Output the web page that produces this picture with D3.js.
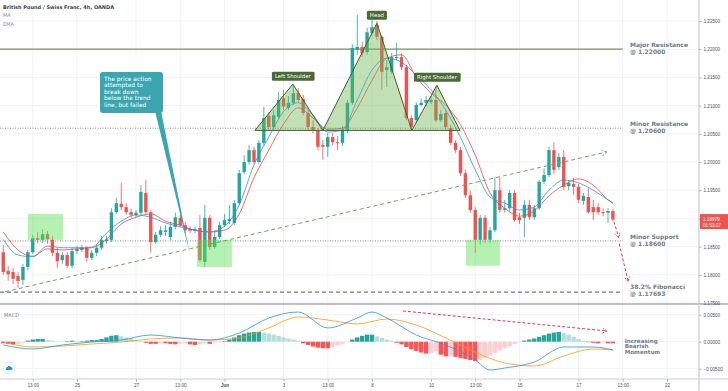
<!DOCTYPE html>
<html>
<head>
<meta charset="utf-8">
<script src="https://d3js.org/d3.v7.min.js"></script>
<style>
  body { margin: 0; background: #fff; }
  svg { display: block; font-family: "DejaVu Sans", Verdana, sans-serif; }
  .tick text { font-family: "Liberation Sans", Arial, sans-serif; fill: #4c525e; }
</style>
</head>
<body>
<svg id="chart" width="728" height="391"></svg>
<script>
// ---- data ----
var firstIdx = -15; // candle index of the first 4h bar (0 = 25 May 01:00)
var opens = [1.1840,1.1807,1.1805,1.1798,1.1791,1.1814,1.1840,1.1865,1.1862,1.1872,1.1862,1.1839,1.1826,1.1835,1.1816,
  1.1842,1.1844,1.1848,1.1830,1.1839,1.1848,1.1860,1.1862,1.1911,1.1926,1.1920,1.1911,1.1906,1.1910,1.1945,
  1.1911,1.1858,1.1871,1.1876,1.1867,1.1885,1.1901,1.1888,1.1881,1.1878,1.1883,1.1823,1.1901,1.1849,1.1867,
  1.1888,1.1895,1.1892,1.1927,1.1982,1.2000,1.2021,1.2000,1.2034,1.2082,1.2062,1.2080,1.2113,1.2096,1.2105,
  1.2122,1.2112,1.2087,1.2062,1.2055,1.2030,1.2027,1.2044,1.2035,1.2034,1.2057,1.2105,1.2199,1.2204,1.2195,
  1.2229,1.2243,1.2222,1.2163,1.2160,1.2184,1.2186,1.2168,1.2078,1.2074,1.2101,1.2105,1.2106,1.2110,1.2074,
  1.2087,1.2060,1.2034,1.2021,1.1980,1.1941,1.1915,1.1862,1.1901,1.1862,1.1879,1.1950,1.1915,1.1918,1.1945,
  1.1902,1.1901,1.1924,1.1902,1.1918,1.1965,1.1977,1.2021,1.1991,1.2009,1.1957,1.1961,1.1956,1.1931,1.1938,
  1.1920,1.1920,1.1911,1.1910,1.1913];
var highs = [1.1853,1.1816,1.1812,1.1805,1.1819,1.1844,1.1871,1.1876,1.1881,1.1878,1.1869,1.1848,1.1840,1.1840,1.1848,
  1.1851,1.1853,1.1851,1.1844,1.1853,1.1869,1.1869,1.1918,1.1936,1.1963,1.1927,1.1917,1.1915,1.1959,1.1968,
  1.1915,1.1876,1.1886,1.1888,1.1894,1.1910,1.1906,1.1894,1.1886,1.1886,1.1906,1.1924,1.1906,1.1879,1.1894,
  1.1908,1.1924,1.1933,1.1986,1.2012,1.2030,1.2027,1.2039,1.2098,1.2089,1.2092,1.2124,1.2128,1.2117,1.2137,
  1.2131,1.2119,1.2092,1.2074,1.2060,1.2039,1.2051,1.2051,1.2046,1.2064,1.2110,1.2209,1.2261,1.2213,1.2238,
  1.2252,1.2250,1.2225,1.2181,1.2193,1.2211,1.2193,1.2172,1.2083,1.2106,1.2113,1.2117,1.2117,1.2135,1.2092,
  1.2092,1.2066,1.2039,1.2027,1.1986,1.1950,1.1920,1.1906,1.1906,1.1885,1.1973,1.1973,1.1933,1.1950,1.1950,
  1.1910,1.1933,1.1933,1.1924,1.1968,1.1989,1.2027,1.2035,1.2016,1.2021,1.1968,1.1972,1.1961,1.1945,1.1954,
  1.1933,1.1927,1.1918,1.1918,1.1917];
var lows = [1.1800,1.1789,1.1784,1.1777,1.1782,1.1809,1.1837,1.1856,1.1856,1.1855,1.1833,1.1812,1.1819,1.1812,1.1812,
  1.1837,1.1840,1.1823,1.1826,1.1833,1.1844,1.1855,1.1858,1.1908,1.1915,1.1906,1.1901,1.1902,1.1906,1.1908,
  1.1839,1.1855,1.1867,1.1869,1.1862,1.1881,1.1885,1.1874,1.1874,1.1874,1.1823,1.1814,1.1844,1.1846,1.1863,
  1.1885,1.1890,1.1888,1.1924,1.1979,1.1995,1.1996,1.1996,1.2030,1.2057,1.2057,1.2076,1.2092,1.2092,1.2101,
  1.2105,1.2083,1.2057,1.2051,1.2021,1.2004,1.2009,1.2030,1.2021,1.2028,1.2051,1.2101,1.2190,1.2186,1.2190,
  1.2223,1.2216,1.2128,1.2133,1.2156,1.2181,1.2163,1.2074,1.2055,1.2069,1.2098,1.2099,1.2103,1.2071,1.2071,
  1.2057,1.2030,1.2016,1.1975,1.1936,1.1910,1.1839,1.1853,1.1856,1.1856,1.1876,1.1910,1.1910,1.1913,1.1894,
  1.1890,1.1867,1.1897,1.1897,1.1915,1.1961,1.1973,1.1979,1.1986,1.1950,1.1950,1.1941,1.1927,1.1924,1.1908,
  1.1897,1.1906,1.1904,1.1892,1.1895];
var closes = [1.1805,1.1801,1.1793,1.1789,1.1814,1.1840,1.1865,1.1862,1.1872,1.1863,1.1839,1.1824,1.1835,1.1816,1.1842,
  1.1846,1.1848,1.1830,1.1839,1.1848,1.1862,1.1863,1.1911,1.1927,1.1920,1.1911,1.1906,1.1910,1.1947,1.1911,
  1.1858,1.1871,1.1879,1.1879,1.1885,1.1902,1.1888,1.1879,1.1878,1.1881,1.1826,1.1901,1.1849,1.1867,1.1888,
  1.1897,1.1899,1.1927,1.1980,1.2000,1.2021,1.2000,1.2034,1.2078,1.2062,1.2083,1.2110,1.2098,1.2105,1.2122,
  1.2110,1.2087,1.2062,1.2057,1.2027,1.2027,1.2044,1.2035,1.2034,1.2057,1.2105,1.2202,1.2204,1.2193,1.2230,
  1.2239,1.2222,1.2160,1.2168,1.2186,1.2186,1.2168,1.2078,1.2062,1.2101,1.2105,1.2110,1.2110,1.2074,1.2085,
  1.2062,1.2034,1.2021,1.1980,1.1941,1.1915,1.1862,1.1901,1.1862,1.1879,1.1950,1.1915,1.1918,1.1945,1.1897,
  1.1897,1.1924,1.1902,1.1918,1.1965,1.1977,1.2021,1.1986,1.2009,1.1956,1.1963,1.1956,1.1933,1.1940,1.1911,
  1.1911,1.1911,1.1910,1.1913,1.18979];

// moving averages, read every few bars
var maIdx = [-15,-12,-9,-6,-3,0,3,6,9,12,15,18,21,24,27,30,33,36,39,42,45,48,51,54,57,60,63,66,69,72,75,78,81,84,87,90,93,96,99,102,105,108,109];
var maVals = [1.1876,1.1844,1.1833,1.1846,1.1844,1.1846,1.1848,1.1863,1.1890,1.1902,1.1908,1.1895,1.1888,1.1879,1.1876,1.1879,1.1908,1.1972,1.2021,1.2067,1.2096,1.2078,1.2058,1.2060,1.2096,1.2145,1.2184,1.2190,1.2151,1.2122,1.2101,1.2066,1.2012,1.1945,1.1918,1.1904,1.1913,1.1940,1.1959,1.1970,1.1959,1.1933,1.1927];
var emaVals = [1.1863,1.1835,1.1832,1.1851,1.1848,1.1848,1.1849,1.1874,1.1895,1.1906,1.1902,1.1892,1.1885,1.1879,1.1876,1.1886,1.1924,1.1995,1.2044,1.2089,1.2105,1.2083,1.2053,1.2057,1.2110,1.2163,1.2184,1.2177,1.2154,1.2128,1.2092,1.2044,1.1986,1.1938,1.1927,1.1915,1.1920,1.1950,1.1968,1.1963,1.1950,1.1933,1.1927];

// MACD lines, read every six bars
var macdIdx = [-15,-9,-3,3,9,15,21,27,33,39,45,51,57,60,63,69,75,81,84,87,93,99,105,109];
var macdVals = [-0.00061,-0.00135,-0.00061,-0.00006,0.00031,0.00124,0.00069,0.00031,0.00161,0.00439,0.00550,0.00254,0.00439,0.00550,0.00439,0.00124,-0.00061,-0.00339,-0.00524,-0.00487,-0.00376,-0.00098,-0.00098,-0.00154];
var signalIdx = [-15,-9,-3,3,9,15,21,27,33,39,45,51,57,63,69,75,81,87,93,99,105,109];
var signalVals = [-0.00006,-0.00098,-0.00080,-0.00043,-0.00006,0.00050,0.00069,0.00031,0.00069,0.00254,0.00457,0.00402,0.00328,0.00420,0.00309,0.00069,-0.00191,-0.00394,-0.00450,-0.00265,-0.00135,-0.00154];
var histVals = [-0.0003,-0.0004,-0.0005,-0.0004,-0.0002,
  0.0002,0.0004,0.0005,0.0005,0.0003,0.0002,
  0.0001,0.0000,0.0001,0.0002,0.0001,0.0001,0.0002,0.0003,0.0003,
  0.0005,0.0008,0.0011,0.0012,0.0010,0.0008,0.0006,0.0003,
  0.0001,-0.0002,-0.0004,-0.0004,-0.0003,-0.0003,-0.0004,-0.0005,-0.0004,-0.0003,-0.0005,-0.0006,
  -0.0005,-0.0003,-0.0004,-0.0002,-0.0001,0.0001,
  0.0004,0.0008,0.0012,0.0015,0.0017,0.0018,0.0018,0.0017,0.0015,0.0013,0.0011,0.0008,0.0006,0.0004,0.0002,
  -0.0003,-0.0006,-0.0009,-0.0011,-0.0012,-0.0012,-0.0010,-0.0007,-0.0004,-0.0001,
  0.0004,0.0008,0.0011,0.0013,0.0013,0.0010,0.0007,0.0004,0.0002,
  -0.0002,-0.0005,-0.0010,-0.0014,-0.0017,-0.0020,-0.0022,-0.0021,-0.0018,-0.0024,-0.0027,-0.0026,-0.0028,-0.0030,-0.0032,-0.0034,-0.0036,-0.0034,
  -0.0030,-0.0026,-0.0021,-0.0016,-0.0012,-0.0008,-0.0004,-0.0001,
  0.0002,0.0004,0.0006,0.0009,0.0012,0.0015,0.0017,0.0018,0.0016,0.0013,0.0009,0.0005,0.0002,
  -0.0001,-0.0002,-0.0003,-0.0002,-0.0003,-0.0003];

// axes
var timeIdx = [-9,0,12,21,30,42,51,60,72,81,90,102,111,120];
var timeLabels = ["13:00","25","27","13:00","Jun","3","13:00","8","10","13:00","15","17","13:00","22"];
var priceTicks = [1.175,1.18,1.185,1.19,1.195,1.2,1.205,1.21,1.215,1.22,1.225];
var macdTicks = [-0.005,0,0.005];

// drawn levels
var levelVals = [1.22, 1.206, 1.186, 1.17693];
var levelNames = [["Major Resistance","@ 1.22000"],["Minor Resistance","@  1.20600"],["Minor Support","@ 1.18600"],["38.2% Fibonacci","@ 1.17693"]];

// head and shoulders
var hsIdx = [[36.2,43.9,50],[50,61,68.1],[68.1,73.2,77.9]];
var hsPrice = [[1.2056,1.2138,1.2056],[1.2056,1.2246,1.2056],[1.2056,1.2136,1.2056]];
var hsNames = ["Left Shoulder","Head","Right Shoulder"];

// green zones [i0, i1, top, bottom]
var zones = [[-10,-2.85,1.1908,1.1862],[24.4,31.5,1.1862,1.1814],[79.1,86,1.1862,1.1816]];

// trend line and projections
var trendIdx = [-14.6,107.8], trendPrice = [1.1770,1.2018];
var proj1Idx = [109.2,110.2], proj1Price = [1.1894,1.1866];
var proj2Idx = [110.3,112.1], proj2Price = [1.1855,1.1788];
var macdArrowIdx = [66.3,107.8], macdArrowVals = [0.00569,0.00198];
var calloutTipIdx = 23, calloutTipPrice = 1.1835;

// ---- chart ----
var svg = d3.select("#chart");
var axisX = 699, sepY = 304, macdBottom = 379;
var x = d3.scaleLinear().domain([0,120]).range([77,667]);
var y = d3.scaleLinear().domain([1.175,1.225]).range([303,21]);
var ym = d3.scaleLinear().domain([-0.005,0.005]).range([368.7,314.7]);

var defs = svg.append("defs");
defs.append("clipPath").attr("id","mainClip").append("rect").attr("width",axisX).attr("height",sepY);
defs.append("clipPath").attr("id","macdClip").append("rect").attr("y",sepY).attr("width",axisX).attr("height",macdBottom-sepY);

// grid
var grid = svg.append("g");
grid.selectAll(".gv").data(timeIdx).enter().append("line")
  .attr("x1",d=>x(d)).attr("x2",d=>x(d)).attr("y1",0).attr("y2",macdBottom)
  .attr("stroke","#f0f2f6");
grid.selectAll(".gh").data(priceTicks).enter().append("line")
  .attr("x1",0).attr("x2",axisX).attr("y1",d=>y(d)).attr("y2",d=>y(d))
  .attr("stroke","#f0f2f6");
grid.selectAll(".gm").data(macdTicks).enter().append("line")
  .attr("x1",0).attr("x2",axisX).attr("y1",d=>ym(d)).attr("y2",d=>ym(d))
  .attr("stroke","#f0f2f6");

var main = svg.append("g").attr("clip-path","url(#mainClip)");

// levels
var levelStyle = [
  {stroke:"#6f9a55", w:1.3, dash:null},
  {stroke:"#8a8f80", w:1, dash:"1,1.5"},
  {stroke:"#8a8f80", w:1, dash:"1,1.5"},
  {stroke:"#555", w:1, dash:"4,3"}];
main.selectAll(".lvl").data(levelVals).enter().append("line")
  .attr("x1",0).attr("x2",x(111)).attr("y1",d=>y(d)).attr("y2",d=>y(d))
  .attr("stroke",(d,k)=>levelStyle[k].stroke).attr("stroke-width",(d,k)=>levelStyle[k].w)
  .attr("stroke-dasharray",(d,k)=>levelStyle[k].dash);

// candles
var candles = closes.map(function(c,k){
  return {i: firstIdx+k, o: opens[k], h: highs[k], l: lows[k], c: c};
});
var up = "#26a69a", down = "#ef5350";
var cg = main.selectAll(".candle").data(candles).enter().append("g");
cg.append("line")
  .attr("x1",d=>x(d.i)).attr("x2",d=>x(d.i)).attr("y1",d=>y(d.h)).attr("y2",d=>y(d.l))
  .attr("stroke",d=>d.c>=d.o?up:down).attr("stroke-width",0.8);
cg.append("rect")
  .attr("x",d=>x(d.i)-1.7).attr("width",3.4)
  .attr("y",d=>y(Math.max(d.o,d.c)))
  .attr("height",d=>Math.max(1,Math.abs(y(d.o)-y(d.c))))
  .attr("fill",d=>d.c>=d.o?up:down);

// MA / EMA
var ln = d3.line().x(d=>x(d[0])).y(d=>y(d[1])).curve(d3.curveMonotoneX);
main.append("path").datum(maIdx.map((d,k)=>[d,maVals[k]]))
  .attr("d",ln).attr("fill","none").attr("stroke","#f44336").attr("stroke-width",0.8);
main.append("path").datum(maIdx.map((d,k)=>[d,emaVals[k]]))
  .attr("d",ln).attr("fill","none").attr("stroke","#2196f3").attr("stroke-width",0.8);

// head & shoulders triangles
main.selectAll(".hs").data(hsIdx).enter().append("polygon")
  .attr("points",(d,k)=>d.map((v,j)=>x(v)+","+y(hsPrice[k][j])).join(" "))
  .attr("fill","rgba(110,180,80,0.42)").attr("stroke","#3d6230").attr("stroke-width",1);

// zones
main.selectAll(".zone").data(zones).enter().append("rect")
  .attr("x",d=>x(d[0])).attr("width",d=>x(d[1])-x(d[0]))
  .attr("y",d=>y(d[2])).attr("height",d=>y(d[3])-y(d[2]))
  .attr("fill","rgba(90,225,80,0.45)");

function chevron(g, x1, y1, x2, y2, size, color, dash) {
  var a = Math.atan2(y2-y1, x2-x1);
  var p1 = [x2 - size*Math.cos(a-0.5), y2 - size*Math.sin(a-0.5)];
  var p2 = [x2 - size*Math.cos(a+0.5), y2 - size*Math.sin(a+0.5)];
  g.append("path").attr("d","M"+p1+"L"+[x2,y2]+"L"+p2)
    .attr("fill","none").attr("stroke",color).attr("stroke-width",1).attr("stroke-dasharray",dash);
}

// trend line
var tx1 = x(trendIdx[0]), ty1 = y(trendPrice[0]), tx2 = x(trendIdx[1]), ty2 = y(trendPrice[1]);
main.append("line").attr("x1",tx1).attr("y1",ty1).attr("x2",tx2).attr("y2",ty2)
  .attr("stroke","#7f9c74").attr("stroke-width",1).attr("stroke-dasharray","4,3");
chevron(main, tx1, ty1, tx2, ty2, 6, "#7f9c74", "2,1.5");

// projection arrows
[[proj1Idx,proj1Price],[proj2Idx,proj2Price]].forEach(function(p){
  var ax1 = x(p[0][0]), ay1 = y(p[1][0]), ax2 = x(p[0][1]), ay2 = y(p[1][1]);
  main.append("line").attr("x1",ax1).attr("y1",ay1).attr("x2",ax2).attr("y2",ay2)
    .attr("stroke","#f23645").attr("stroke-width",1).attr("stroke-dasharray","3,2");
  chevron(main, ax1, ay1, ax2, ay2, 5, "#f23645", "2,1");
});

// head & shoulders tags
var tags = svg.append("g");
hsNames.forEach(function(name,k){
  var cx = x(hsIdx[k][1]);
  var cy = y(hsPrice[k][1]) - (k===1 ? 8 : 8);
  var t = tags.append("text").attr("x",cx).attr("y",cy+1.8).attr("text-anchor","middle")
    .attr("font-size",5.4).attr("fill","#fff").text(name);
  var bb = t.node().getBBox();
  tags.insert("rect","text").attr("x",bb.x-3).attr("y",cy-4.5).attr("width",bb.width+6).attr("height",9)
    .attr("rx",1.5).attr("fill","#4a6b35");
});

// callout
var cbx = 100, cby = 72, cbw = 63, cbh = 41;
var tipX = x(calloutTipIdx), tipY = y(calloutTipPrice);
svg.append("path").attr("d","M"+(cbx+cbw-8)+","+(cby+cbh-2)+"L"+(cbx+cbw-2)+","+(cby+cbh-2)+"L"+tipX+","+tipY+"Z")
  .attr("fill","#3ba6b0");
svg.append("rect").attr("x",cbx).attr("y",cby).attr("width",cbw).attr("height",cbh).attr("rx",3)
  .attr("fill","#3ba6b0");
var calloutLines = ["The price action","attempted to","break down","below the trend","line, but failed"];
svg.append("g").selectAll("text").data(calloutLines).enter().append("text")
  .attr("x",cbx+4).attr("y",(d,k)=>cby+8.5+k*6.6).attr("font-size",5.9).attr("fill","#fff").text(d=>d);

// level labels
var lbl = svg.append("g").attr("font-weight","bold").attr("fill","#6c7c8c").attr("font-size",6);
levelVals.forEach(function(v,k){
  var ly = y(v);
  var off = k===3 ? -3 : -2;
  lbl.append("text").attr("x",630).attr("y",ly+off).text(levelNames[k][0]);
  lbl.append("text").attr("x",630).attr("y",ly+off+6.6).text(levelNames[k][1]);
});

// MACD panel
var macdG = svg.append("g").attr("clip-path","url(#macdClip)");
var histColor = function(v,k){
  var prev = k>0 ? histVals[k-1] : 0;
  if (v >= 0) return v >= prev ? "#26a69a" : "#b2dfdb";
  return v <= prev ? "#ff5252" : "#ffcdd2";
};
macdG.selectAll(".hist").data(histVals).enter().append("rect")
  .attr("x",(d,k)=>x(firstIdx+k)-2.2).attr("width",4.4)
  .attr("y",d=>ym(Math.max(0,d))).attr("height",d=>Math.abs(ym(d)-ym(0)))
  .attr("fill",histColor);
var mln = d3.line().x(d=>x(d[0])).y(d=>ym(d[1])).curve(d3.curveMonotoneX);
macdG.append("path").datum(signalIdx.map((d,k)=>[d,signalVals[k]]))
  .attr("d",mln).attr("fill","none").attr("stroke","#ff9800").attr("stroke-width",0.8);
macdG.append("path").datum(macdIdx.map((d,k)=>[d,macdVals[k]]))
  .attr("d",mln).attr("fill","none").attr("stroke","#2196f3").attr("stroke-width",0.8);
var mx1 = x(macdArrowIdx[0]), my1 = ym(macdArrowVals[0]), mx2 = x(macdArrowIdx[1]), my2 = ym(macdArrowVals[1]);
macdG.append("line").attr("x1",mx1).attr("y1",my1).attr("x2",mx2).attr("y2",my2)
  .attr("stroke","#f23645").attr("stroke-width",1).attr("stroke-dasharray","3,2");
chevron(macdG, mx1, my1, mx2, my2, 5, "#f23645", "2,1");
var mom = svg.append("g").attr("font-weight","bold").attr("fill","#6c7c8c").attr("font-size",5.6);
["Increasing","Bearish","Momentum"].forEach(function(t,k){
  mom.append("text").attr("x",x(111.4)).attr("y",ym(0)+1+k*5.7).text(t);
});
svg.append("text").attr("x",4).attr("y",317).attr("font-size",5).attr("fill","#7a7f88").text("MACD");
svg.append("circle").attr("cx",9).attr("cy",368).attr("r",6).attr("fill","#fff").attr("stroke","#e3e6ec");
svg.append("path").attr("d","M6,370 a2,2 0 0 1 1.5,-3 a2,2 0 0 1 3.5,0 a2,2 0 0 1 1,3 z").attr("fill","#2a8fe0");

// separator + frame
svg.append("line").attr("x1",0).attr("x2",728).attr("y1",sepY).attr("y2",sepY).attr("stroke","#a9adb5").attr("stroke-width",1.3);
svg.append("line").attr("x1",0).attr("x2",728).attr("y1",macdBottom).attr("y2",macdBottom).attr("stroke","#c9ccd3").attr("stroke-width",1);
svg.append("line").attr("x1",axisX).attr("x2",axisX).attr("y1",0).attr("y2",391).attr("stroke","#cfd2d8").attr("stroke-width",1.4);

// axes
var yAxis = svg.append("g").attr("transform","translate("+axisX+",0)")
  .call(d3.axisRight(y).tickValues(priceTicks).tickFormat(d3.format(".5f")).tickSize(2.5).tickPadding(2));
var mAxis = svg.append("g").attr("transform","translate("+axisX+",0)")
  .call(d3.axisRight(ym).tickValues(macdTicks).tickFormat(d3.format(".5f")).tickSize(2.5).tickPadding(2));
var xAxis = svg.append("g").attr("transform","translate(0,"+macdBottom+")")
  .call(d3.axisBottom(x).tickValues(timeIdx).tickFormat((d,k)=>timeLabels[k]).tickSize(2.5).tickPadding(2));
[yAxis,mAxis,xAxis].forEach(function(a){
  a.select(".domain").remove();
  a.selectAll(".tick line").attr("stroke","#b0b4bc");
  a.selectAll(".tick text").attr("font-size",4.6);
});
xAxis.selectAll(".tick text").filter((d,k)=>timeLabels[k]==="Jun").attr("font-weight","bold");

// last price tag
var lastY = y(closes[closes.length-1]);
svg.append("rect").attr("x",axisX+1).attr("y",lastY-5.5).attr("width",28).attr("height",15).attr("fill","#ef5350");
svg.append("text").attr("x",axisX+4).attr("y",lastY+1.5).attr("font-size",4.6).attr("fill","#fff")
  .attr("font-family","Liberation Sans, Arial, sans-serif").text(d3.format(".5f")(closes[closes.length-1]));
svg.append("text").attr("x",axisX+4).attr("y",lastY+7.5).attr("font-size",4.6).attr("fill","#fff")
  .attr("font-family","Liberation Sans, Arial, sans-serif").text("01:53:17");

// legend
svg.append("text").attr("x",3).attr("y",9).attr("font-size",5).attr("font-weight","bold").attr("fill","#3a3f47")
  .text("British Pound / Swiss Franc, 4h, OANDA");
svg.append("text").attr("x",3).attr("y",17).attr("font-size",5).attr("fill","#8a8f98").text("MA");
svg.append("text").attr("x",3).attr("y",25.5).attr("font-size",5).attr("fill","#8a8f98").text("EMA");
</script>
</body>
</html>
